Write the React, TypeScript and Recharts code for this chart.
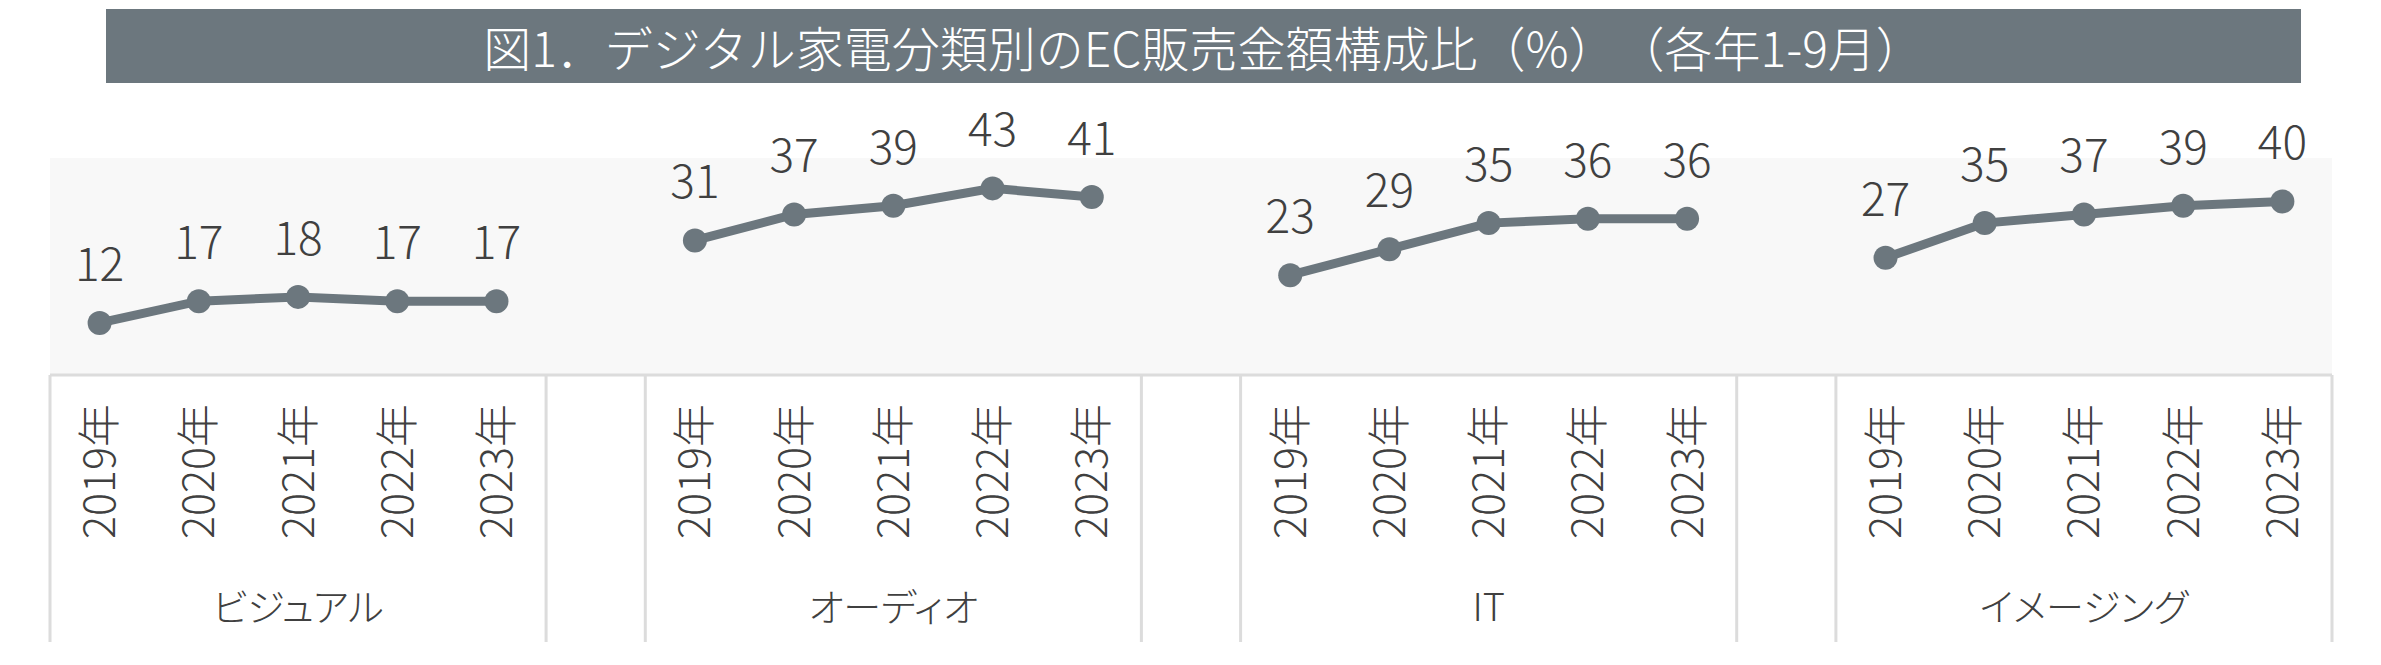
import React from 'react';
import { LineChart, Line, XAxis, YAxis, CartesianGrid, LabelList } from 'recharts';

// 分類と年
const groups = ['ビジュアル', 'オーディオ', 'IT', 'イメージング'];
const years = ['2019年', '2020年', '2021年', '2022年', '2023年'];

// EC販売金額構成比（%）
const visual = [12, 17, 18, 17, 17];
const audio = [31, 37, 39, 43, 41];
const it = [23, 29, 35, 36, 36];
const imaging = [27, 35, 37, 39, 40];

const yTicks = [0, 50];

const series = [visual, audio, it, imaging];

const W = 2381;
const H = 665;
const AXIS_H = 290;
const MARGIN = { top: 158, right: 49, bottom: 0, left: 50 };
const GRAY = '#6c777e';
const TEXT = '#404040';
const FONT = "'Noto Sans CJK JP', 'Noto Sans', sans-serif";

type Row = { key: string; year: string; group: string; value: number | null; pos: number };

// groups separated by one blank category, like the Excel multi-level axis
const rows: Row[] = [];
groups.forEach((g, gi) => {
  years.forEach((y, yi) => {
    rows.push({ key: `${g}-${y}`, year: y, group: g, value: series[gi][yi], pos: yi });
  });
  if (gi < groups.length - 1) rows.push({ key: `gap-${gi}`, year: '', group: '', value: null, pos: -1 });
});

const bandWidth = (W - MARGIN.left - MARGIN.right) / rows.length;

const YearTick = (props: any) => {
  const { x, y, payload } = props;
  const row = rows[payload.index];
  if (!row || row.pos < 0) return <g />;
  const half = bandWidth / 2;
  return (
    <g>
      {row.pos === 0 && <line x1={x - half} x2={x - half} y1={y} y2={y + 267} stroke="#dcdcdc" strokeWidth={3} />}
      {row.pos === years.length - 1 && (
        <line x1={x + half} x2={x + half} y1={y} y2={y + 267} stroke="#dcdcdc" strokeWidth={3} />
      )}
      <g transform={`translate(${x},${y + 29})`}>
        <text transform="rotate(-90)" textAnchor="end" dy="0.36em" fill={TEXT} fontSize={43} fontFamily={FONT} fontWeight={300}>
          {row.year}
        </text>
      </g>
      {row.pos === 2 && (
        <text
          x={x}
          y={y + 246}
          textAnchor="middle"
          fill={TEXT}
          fontSize={38}
          fontFamily={FONT}
          fontWeight={300}
          style={{ fontFeatureSettings: '"palt"' }}
        >
          {row.group}
        </text>
      )}
    </g>
  );
};

const ValueLabel = (props: any) => {
  const { x, y, value } = props;
  if (value == null) return null;
  return (
    <text x={x} y={y - 42} textAnchor="middle" fill={TEXT} fontSize={46} fontFamily={FONT} fontWeight={300}>
      {value}
    </text>
  );
};

export default function App() {
  return (
    <div style={{ position: 'absolute', left: 0, top: 0, width: W, height: H, background: '#fff' }}>
      <div
        style={{
          position: 'absolute',
          left: 106,
          top: 9,
          width: 2195,
          height: 74,
          lineHeight: '74px',
          background: GRAY,
          color: '#fff',
          textAlign: 'center',
          fontFamily: FONT,
          fontWeight: 300,
          fontSize: 48,
          whiteSpace: 'nowrap',
          textSpacingTrim: 'space-all',
        } as React.CSSProperties}
      >
        図1．デジタル家電分類別のEC販売金額構成比（%）（各年1-9月）
      </div>
      <div style={{ position: 'absolute', left: 0, top: 0 }}>
        <LineChart width={W} height={H} data={rows} margin={MARGIN}>
          <CartesianGrid horizontal={false} vertical={false} fill="#f8f8f8" />
          <XAxis
            dataKey="key"
            scale="band"
            interval={0}
            height={AXIS_H}
            tickLine={false}
            tickSize={0}
            tickMargin={0}
            axisLine={{ stroke: '#dcdcdc', strokeWidth: 3 }}
            tick={<YearTick />}
          />
          <YAxis hide domain={[yTicks[0], yTicks[1]]} ticks={yTicks} />
          <Line
            dataKey="value"
            stroke={GRAY}
            strokeWidth={9}
            dot={{ r: 12, fill: GRAY, stroke: 'none' }}
            activeDot={false}
            connectNulls={false}
            isAnimationActive={false}
          >
            <LabelList dataKey="value" content={<ValueLabel />} />
          </Line>
        </LineChart>
      </div>
    </div>
  );
}
